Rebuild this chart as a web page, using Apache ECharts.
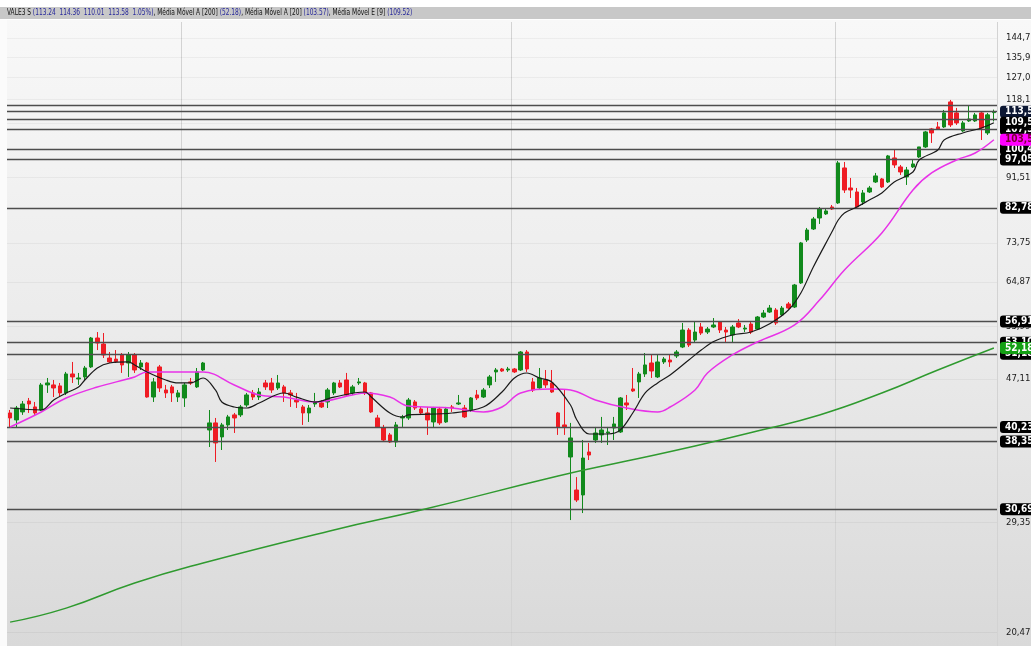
<!DOCTYPE html>
<html><head><meta charset="utf-8">
<script src="https://cdn.jsdelivr.net/npm/echarts@6/dist/echarts.min.js"></script>
<style>html,body{margin:0;padding:0;background:#fff}#c{width:1031px;height:646px}</style>
</head><body><div id="c"></div>
<script>
// ---------- DATA ----------
const TICKER = 'VALE3 S';
const FIRST_WEEK = '2018-06-18';
// weekly candles: [open, close, low, high]
const OHLC = [
[42.13,41.44,40.23,42.54],[41.17,42.82,40.10,43.11],[42.27,43.39,41.86,43.82],[43.82,43.39,42.13,44.26],
[42.97,42.13,41.86,43.68],[42.54,46.20,42.40,46.50],[46.20,46.50,45.00,47.27],[46.20,45.74,44.40,46.96],
[46.05,45.00,44.40,46.50],[45.00,47.90,44.70,48.22],[47.90,47.43,46.50,49.83],[47.12,47.27,46.20,48.06],
[47.43,48.85,46.96,49.18],[49.02,53.92,48.85,54.10],[53.92,53.04,51.82,54.99],[52.86,50.99,50.48,54.81],
[50.48,49.83,49.66,51.49],[50.30,49.90,49.66,51.82],[50.99,49.34,48.06,51.32],[49.66,50.99,47.43,51.49],
[50.99,48.53,48.06,51.32],[49.02,49.66,48.53,50.15],[49.66,44.40,44.30,49.83],[44.40,46.66,43.68,47.27],
[49.02,45.74,45.14,49.34],[45.44,45.00,44.26,46.20],[45.90,45.00,43.68,46.20],[44.40,45.00,43.68,45.44],
[44.26,46.20,42.97,46.50],[46.66,46.50,46.20,47.27],[45.90,48.22,45.74,48.85],[48.53,49.66,48.37,49.83],
[39.83,40.77,37.66,42.54],[40.77,38.17,35.85,41.44],[38.93,40.50,37.29,40.77],[40.50,41.58,39.83,41.86],
[41.86,41.44,39.44,42.13],[41.86,42.97,41.58,43.25],[43.25,44.70,42.97,45.00],[45.00,44.40,43.96,45.44],
[44.40,45.14,43.96,45.74],[46.50,45.90,45.44,46.96],[46.50,45.44,45.00,47.27],[45.74,46.50,45.44,47.74],
[45.90,45.00,43.68,46.20],[45.00,44.70,42.97,45.44],[43.96,43.68,42.82,45.00],[42.97,42.13,40.50,43.25],
[42.13,42.82,40.90,43.25],[43.39,43.68,42.97,45.00],[43.54,42.97,42.82,43.96],[43.68,45.44,42.82,45.74],
[45.00,46.50,44.70,46.66],[46.50,45.90,45.74,46.96],[46.96,44.70,44.40,48.06],[45.00,45.90,44.70,46.20],
[46.50,46.66,46.20,47.27],[46.50,45.00,44.70,46.66],[45.00,42.27,42.13,45.14],[41.44,40.23,40.10,41.86],
[40.10,38.54,38.29,40.50],[39.19,38.29,38.17,39.44],[38.29,40.50,37.66,40.90],[41.44,41.58,40.23,41.86],
[41.44,43.96,41.17,44.26],[43.68,42.82,42.54,43.96],[42.68,42.13,41.86,42.97],[42.13,41.17,39.19,42.97],
[40.90,42.82,40.10,42.97],[42.68,40.77,40.50,42.97],[40.90,42.68,40.77,42.97],[42.97,42.82,42.27,43.25],
[43.39,43.54,43.25,44.70],[42.82,41.58,41.44,43.25],[42.54,44.26,42.27,44.40],[44.70,44.26,43.96,45.44],
[44.40,45.44,44.26,45.74],[46.20,47.43,45.74,47.74],[48.22,48.53,46.66,48.85],[48.69,48.37,48.22,48.85],
[48.53,48.69,48.22,49.02],[48.69,48.22,48.06,48.85],[48.53,51.49,48.37,51.65],[51.49,48.69,48.22,51.82],
[46.66,45.44,45.14,47.27],[45.74,47.27,45.44,48.85],[46.96,46.20,45.74,48.53],[46.50,45.14,45.00,48.53],
[42.13,40.23,39.19,42.27],[40.50,40.23,39.19,45.44],[36.44,38.80,29.61,40.77],[32.69,31.63,31.42,34.11],
[32.16,36.32,30.30,38.54],[37.05,36.68,36.08,38.17],[38.54,39.44,38.17,40.23],[39.19,39.83,38.17,41.58],
[39.44,39.57,37.91,40.23],[40.10,40.63,38.54,41.58],[39.57,44.26,39.44,44.40],[43.54,43.25,42.54,44.70],
[45.59,45.29,45.14,48.85],[46.66,47.90,44.26,48.22],[47.90,49.34,47.43,51.32],[49.66,48.37,47.27,50.99],
[47.43,49.83,47.27,50.99],[49.83,50.32,49.50,50.65],[50.15,49.83,49.02,50.99],[50.82,51.49,50.48,51.82],
[52.34,55.35,52.16,56.65],[55.35,52.69,52.34,55.71],[53.56,54.99,53.21,56.83],[55.91,54.81,54.45,56.65],
[54.99,55.53,54.63,55.91],[55.91,56.28,55.71,57.58],[56.83,55.35,54.81,57.01],[55.35,54.99,53.04,55.91],
[54.45,55.91,53.04,56.28],[56.65,55.91,55.71,57.39],[55.53,55.71,54.99,56.28],[56.46,54.99,54.63,56.83],
[55.53,57.78,55.35,57.97],[57.78,58.54,57.58,59.12],[58.73,59.51,58.54,60.11],[59.12,56.65,56.28,59.51],
[58.16,59.51,57.97,59.91],[60.31,59.51,59.31,60.70],[59.71,64.20,59.51,64.42],[64.63,73.73,64.42,73.97],
[74.45,76.94,73.97,77.46],[77.20,79.79,76.94,80.32],[80.05,82.46,78.49,83.00],[81.12,81.92,80.85,82.46],
[83.00,82.46,82.18,83.55],[84.11,95.95,83.83,96.58],[94.38,87.77,86.92,96.26],[88.36,87.77,85.50,91.32],
[87.20,83.00,82.73,88.36],[84.38,86.92,83.55,87.77],[87.20,88.36,86.92,88.95],[90.12,91.93,89.82,92.84],
[91.02,88.65,88.36,91.32],[90.12,98.19,89.82,98.51],[97.54,95.32,94.38,100.13],[94.69,93.14,92.23,95.32],
[91.63,93.75,89.24,94.69],[94.69,95.63,94.38,96.89],[97.86,101.14,97.54,101.14],[101.14,106.26,100.80,106.61],
[107.31,105.91,102.48,107.66],[108.02,107.31,106.95,109.81],[108.02,113.12,107.66,114.23],[117.29,108.74,108.02,118.06],
[113.12,109.46,108.74,115.00],[106.61,109.46,106.26,110.17],[110.17,110.90,109.81,115.88],[110.17,112.38,109.81,113.12],
[113.12,107.66,103.48,113.49],[105.91,112.40,105.21,113.12],[113.24,113.58,110.01,114.36]
];
// moving averages: [week index, value]
const MA9_E = [[0,42.82],[5,42.54],[7,43.96],[9,44.99],[11,45.88],[12,46.96],[14,48.85],[16,49.66],[19,49.83],[20,49.34],
[22,48.21],[25,46.96],[27,46.5],[29,46.5],[31,47.27],[33,45.4],[34,43.67],[36,42.96],[38,42.82],[40,43.53],[44,44.99],
[46,44.39],[49,43.67],[52,44.39],[57,45.14],[58,44.39],[61,42.12],[63,41.57],[64,41.85],[71,42.12],[76,42.96],[79,45.14],
[81,47.27],[83,48.05],[85,47.27],[87,46.65],[90,43.24],[91,41.2],[93,39.31],[96,39.31],[98,39.83],[100,42.12],[102,44.99],
[104,46.5],[106,47.74],[109,50.15],[111,51.82],[113,53.3],[116,54.45],[119,54.99],[122,56.5],[125,59.12],[127,62.53],
[129,68.12],[132,76.5],[133,79.52],[134,81.38],[136,83.0],[138,84.93],[140,86.91],[142,90.12],[145,93.14],[146,96.89],
[149,100.13],[150,103.48],[153,105.9],[156,107.66],[158,109.52]];
const MA20_A = [[0,40.22],[5,42.26],[9,44.25],[14,45.88],[20,47.43],[22,48.21],[31,48.21],[36,46.19],[40,44.69],[44,44.39],
[49,43.67],[55,44.69],[57,44.99],[61,44.39],[64,43.10],[71,42.82],[76,42.26],[79,42.96],[82,44.99],[87,45.59],[90,45.44],
[94,43.96],[99,42.82],[104,42.26],[106,42.96],[110,45.44],[112,48.05],[116,50.99],[120,53.21],[126,56.3],[130,61.1],
[134,67.45],[140,76.19],[145,87.77],[148,92.83],[152,96.89],[155,99.14],[158,103.57]];
const MA200_A = [[0,21.16],[9,22.16],[20,24.07],[31,25.71],[52,28.66],[66,30.60],[88,34.23],[99,35.96],[110,37.79],
[120,39.70],[130,41.85],[140,44.99],[149,48.53],[158,52.18]];
// horizontal price levels
const LEVELS = [116.00, 113.58, 110.90, 107.30, 100.48, 97.05, 82.78, 56.91, 53.10, 51.18, 40.23, 38.35, 30.69];
const UNTAGGED_LEVELS = [116.00, 110.90];
const LAST_PRICE = 113.58;
// price scale ticks (log scale, step 8.88)
const TICKS = [144.79,135.91,127.03,118.15,109.27,100.39,91.51,82.63,73.75,64.87,55.99,47.11,38.23,29.35,20.47];
// first week of each new year (category index)
const YEAR_BREAKS = [28, 81, 133];

// ---------- BUILD ----------
const categories = [];
{ const d0 = new Date(FIRST_WEEK + 'T00:00:00Z');
  for (let i = 0; i < OHLC.length; i++) { const d = new Date(d0.getTime() + i*7*86400000); categories.push(d.toISOString().slice(0,10)); } }
const fmt = v => Number(v).toFixed(2).replace('.', ',');
const NARROW = '"Liberation Sans Narrow","DejaVu Sans Condensed","Liberation Sans",sans-serif';
const last = OHLC[OHLC.length-1], prev = OHLC[OHLC.length-2];
const pct = ((last[1]/prev[1]-1)*100).toFixed(2);
const lastOf = a => a[a.length-1][1];
const HIDDEN = 'rgba(0,0,0,0)';

const tagLabel = (bg, fg) => ({show:true, position:'end', distance:3, formatter: p => fmt(p.value),
  backgroundColor:bg, color:fg, fontFamily:NARROW, fontSize:10, fontWeight:'bold', padding:[1,6,0,5], borderRadius:3, lineHeight:11});

const chart = echarts.init(document.getElementById('c'), null, {renderer:'canvas'});
chart.setOption({
  animation:false,
  backgroundColor:'#ffffff',
  graphic:[
    {type:'rect', z:-10, silent:true, shape:{x:0,y:20,width:1031,height:626},
     style:{fill:new echarts.graphic.LinearGradient(0,0,0,1,[{offset:0,color:'#f8f8f8'},{offset:0.5,color:'#ebebeb'},{offset:1,color:'#d9d9d9'}])}},
    {type:'rect', z:-9, silent:true, shape:{x:0,y:20,width:7,height:626}, style:{fill:'#fbfbfb'}},
    {type:'rect', z:-9, silent:true, shape:{x:0,y:7,width:1031,height:12}, style:{fill:'#c8c8c8'}},
    {type:'text', z:10, silent:true, x:7, y:8, scaleX:0.77, style:{
      text: `{k|${TICKER} }{v|(${last[0].toFixed(2)}  ${last[3].toFixed(2)}  ${last[2].toFixed(2)}  ${last[1].toFixed(2)}  ${pct}%)}{k|, Média Móvel A [200] }{v|(${lastOf(MA200_A).toFixed(2)})}{k|, Média Móvel A [20] }{v|(${lastOf(MA20_A).toFixed(2)})}{k|, Média Móvel E [9] }{v|(${lastOf(MA9_E).toFixed(2)})}`,
      rich:{k:{fill:'#111', fontSize:8.5, fontFamily:NARROW}, v:{fill:'#26279a', fontSize:8.5, fontFamily:NARROW}}}}
  ],
  grid:{left:7, right:34, top:22, bottom:0},
  xAxis:{type:'category', data:categories, boundaryGap:true,
    axisLine:{show:false}, axisTick:{show:false}, axisLabel:{show:false},
    splitLine:{show:true, interval:(i)=>YEAR_BREAKS.includes(i), lineStyle:{color:'#d3d3d3', width:1}}},
  yAxis:{type:'log', logBase:10, min:19.56, max:152.6, position:'right',
    axisLine:{show:false}, axisTick:{show:false}, axisLabel:{show:false}, splitLine:{show:false}},
  series:[
    {type:'line', name:'ticks', data:[], z:1, silent:true,
     markLine:{z:1, silent:true, symbol:['none','none'], animation:false,
       lineStyle:{color:'rgba(0,0,0,0.045)', width:1, type:'solid'},
       label:{show:true, position:'end', distance:9, formatter:p=>fmt(p.value), color:'#1a1a1a', fontSize:9.5, fontFamily:NARROW},
       data: TICKS.map(v=>({yAxis:v}))}},
    {type:'candlestick', name:'VALE3', data:OHLC, z:2, barWidth:4,
     itemStyle:{color:'#118a1c', color0:'#ef1c24', borderColor:'#118a1c', borderColor0:'#ef1c24', borderWidth:1},
     markLine:{z:3, silent:true, symbol:['none','none'], animation:false,
       lineStyle:{color:'#4d4d4d', width:1.3, type:'solid'},
       data: LEVELS.map(v=>{
         const it = {yAxis:v};
         if (UNTAGGED_LEVELS.includes(v)) it.label = {show:false};
         else if (v === LAST_PRICE) it.label = tagLabel('#0c1733', '#ffffff');
         else it.label = tagLabel('#000000', '#ffffff');
         return it; })}},
    {type:'line', name:'MA200', data:MA200_A, z:3, symbol:'none', smooth:0.5, lineStyle:{color:'#2f9a2f', width:1.5},
     markLine:{z:5, silent:true, symbol:['none','none'], animation:false, lineStyle:{color:HIDDEN, width:0},
       data:[{yAxis:lastOf(MA200_A), label:tagLabel('#13a013','#ffffff')}]}},
    {type:'line', name:'MA20', data:MA20_A, z:3, symbol:'none', smooth:0.4, lineStyle:{color:'#e832e8', width:1.5},
     markLine:{z:5, silent:true, symbol:['none','none'], animation:false, lineStyle:{color:HIDDEN, width:0},
       data:[{yAxis:lastOf(MA20_A), label:tagLabel('#ff00ff','#7a0030')}]}},
    {type:'line', name:'MA9', data:MA9_E, z:4, symbol:'none', smooth:0.35, lineStyle:{color:'#1a1a1a', width:1.2},
     markLine:{z:4, silent:true, symbol:['none','none'], animation:false, lineStyle:{color:HIDDEN, width:0},
       data:[{yAxis:lastOf(MA9_E), label:tagLabel('#000000','#ffffff')}]}}
  ]
});
</script></body></html>
